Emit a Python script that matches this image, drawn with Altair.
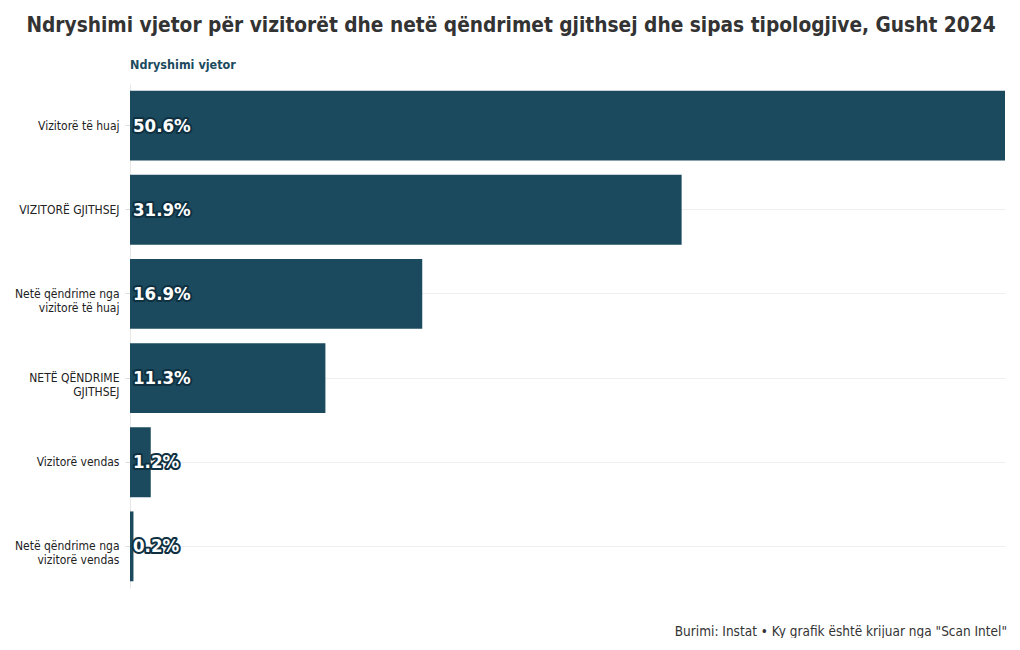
import altair as alt
import pandas as pd

categories = [
    "Vizitorë të huaj",
    "VIZITORË GJITHSEJ",
    "Netë qëndrime nga|vizitorë të huaj",
    "NETË QËNDRIME|GJITHSEJ",
    "Vizitorë vendas",
    "Netë qëndrime nga|vizitorë vendas",
]
values = [50.6, 31.9, 16.9, 11.3, 1.2, 0.2]
labels = ["50.6%", "31.9%", "16.9%", "11.3%", "1.2%", "0.2%"]

title_text = "Ndryshimi vjetor për vizitorët dhe netë qëndrimet gjithsej dhe sipas tipologjive, Gusht 2024"
subtitle_text = "Ndryshimi vjetor"
footer_text = "Burimi: Instat • Ky grafik është krijuar nga \"Scan Intel\""

df = pd.DataFrame({"cat": categories, "val": values, "lab": labels})

COND = "DejaVu Sans Condensed, Liberation Sans Narrow, sans-serif"
BAR = "#1b4a5e"

W, H = 875, 504

y_enc = alt.Y(
    "cat:N",
    sort=categories,
    title=None,
    scale=alt.Scale(paddingInner=0.17, paddingOuter=0.08),
    axis=alt.Axis(
        labelExpr="split(datum.label, '|')",
        labelFont=COND,
        labelFontSize=12,
        labelColor="#222222",
        labelPadding=6,
        labelLineHeight=14,
        tickColor="#dddddd",
        tickSize=5,
        domainColor="#e6e6e6",
        grid=True,
        gridColor="#eeeeee",
        bandPosition=0.5,
    ),
)

bars = alt.Chart(df).mark_bar(color=BAR).encode(
    x=alt.X("val:Q", scale=alt.Scale(domain=[0, 50.6], nice=False), axis=None),
    y=y_enc,
)

halo = alt.Chart(df).mark_text(
    align="left", baseline="middle", font=COND, fontSize=18.5, fontWeight="bold",
    stroke="#0e3040", strokeWidth=4, strokeJoin="round", color="#0e3040",
).encode(x=alt.value(3), y=alt.Y("cat:N", sort=categories), text="lab:N")

text = alt.Chart(df).mark_text(
    align="left", baseline="middle", font=COND, fontSize=18.5, fontWeight="bold",
    color="white",
).encode(x=alt.value(3), y=alt.Y("cat:N", sort=categories), text="lab:N")

title = alt.Chart(pd.DataFrame({"t": [title_text]})).mark_text(
    align="center", baseline="middle", font=COND, fontSize=20.7, fontWeight="bold", color="#333333"
).encode(x=alt.value(381), y=alt.value(-58), text="t:N")

sub = alt.Chart(pd.DataFrame({"t": [subtitle_text]})).mark_text(
    align="left", baseline="middle", font=COND, fontSize=12.5, fontWeight="bold", color="#1b4a5e"
).encode(x=alt.value(0), y=alt.value(-19), text="t:N")

foot = alt.Chart(pd.DataFrame({"t": [footer_text]})).mark_text(
    align="right", baseline="middle", font=COND, fontSize=13.5, color="#333333"
).encode(x=alt.value(W + 2), y=alt.value(H + 44), text="t:N")

chart = alt.layer(bars, halo, text, title, sub, foot).properties(
    width=W, height=H,
    background="white",
    autosize=alt.AutoSizeParams(type="none"),
    padding={"left": 122, "top": 76, "right": 5, "bottom": 50},
).configure_view(stroke="transparent", strokeWidth=0)

chart.save("out.html", embed_options={"renderer": "svg", "actions": False})
